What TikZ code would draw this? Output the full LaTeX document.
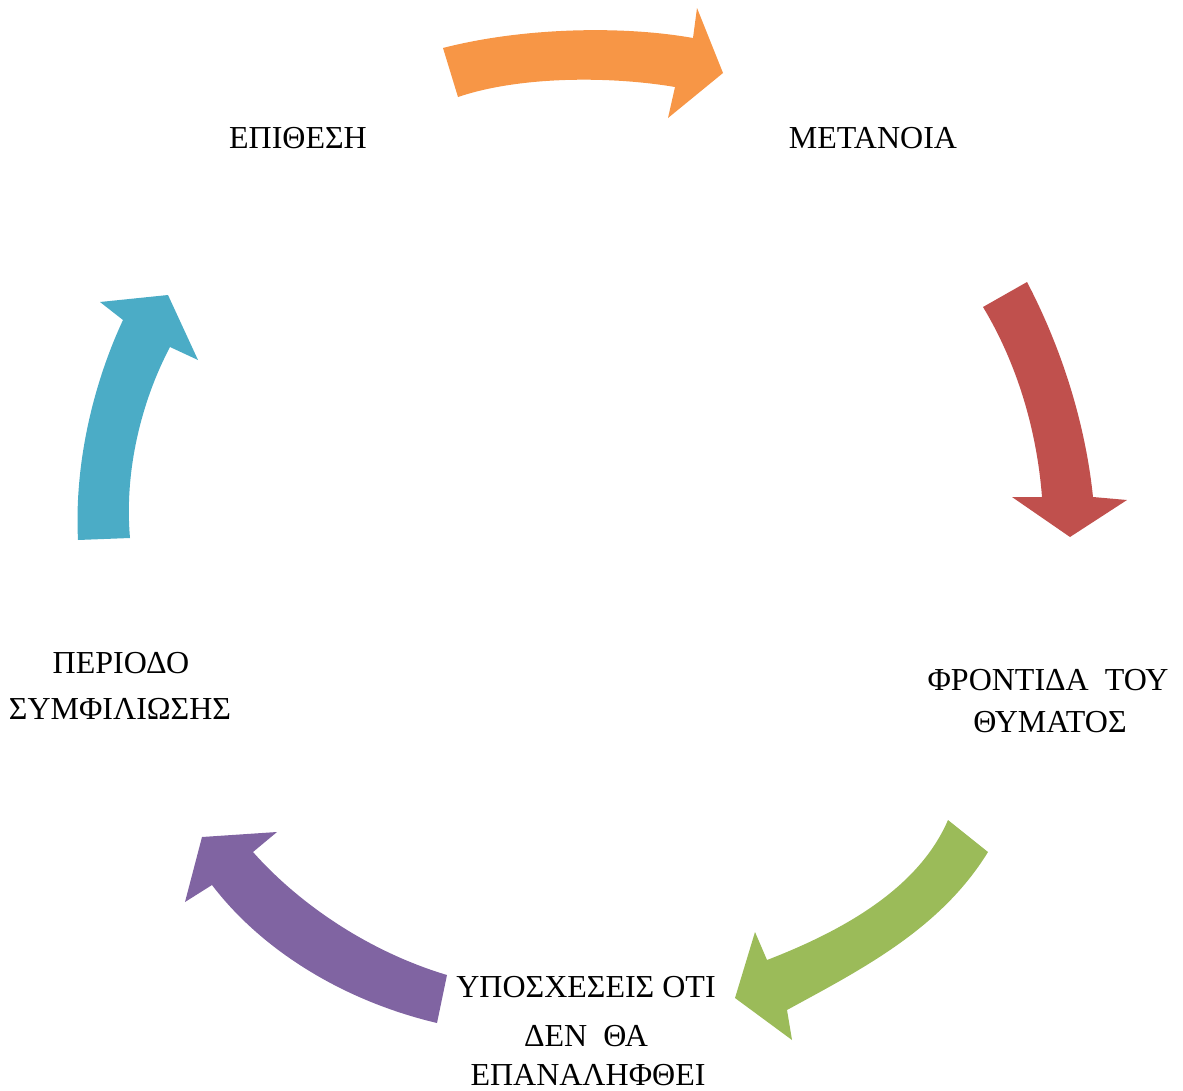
\documentclass[tikz,border=0pt]{standalone}
\usepackage{fontspec}
\setmainfont{Liberation Serif}
\definecolor{aorange}{HTML}{F79646}
\definecolor{ared}{HTML}{C0504D}
\definecolor{agreen}{HTML}{9BBB59}
\definecolor{apurple}{HTML}{8064A2}
\definecolor{ablue}{HTML}{4BACC6}
\begin{document}
\begin{tikzpicture}[x=1pt,y=-1pt,
  lbl/.style={anchor=base,inner sep=0pt,font=\fontsize{32}{38}\selectfont,text=black}]
\useasboundingbox (0,0) rectangle (1183,1090);
% orange arrow (top)
\fill[aorange] (443,48) .. controls (520,28) and (620,25) .. (693,38)
  -- (697,8) -- (723,73) -- (668,118) -- (675,87)
  .. controls (610,76) and (520,76) .. (458,97) -- cycle;
% red arrow (right)
\fill[ared] (983,307) -- (1027,282)
  .. controls (1060,345) and (1085,420) .. (1093,497)
  -- (1127,500) -- (1070,537) -- (1012,497) -- (1042,497)
  .. controls (1036,420) and (1012,355) .. (983,307) -- cycle;
% green arrow (bottom right)
\fill[agreen] (948,820) -- (988,852)
  .. controls (940,930) and (860,970) .. (787,1010)
  -- (792,1040) -- (735,998) -- (755,932) -- (767,960)
  .. controls (850,928) and (920,885) .. (948,820) -- cycle;
% purple arrow (bottom left)
\fill[apurple] (447,975) -- (437,1023)
  .. controls (340,1000) and (260,948) .. (212,885)
  -- (185,902) -- (202,837) -- (277,832) -- (253,852)
  .. controls (300,905) and (370,952) .. (447,975) -- cycle;
% blue arrow (left)
\fill[ablue] (130,538) -- (78,540)
  .. controls (74,460) and (95,380) .. (123,320)
  -- (100,302) -- (168,295) -- (198,360) -- (170,347)
  .. controls (142,400) and (124,470) .. (130,538) -- cycle;
% labels
\node[lbl] (t1) at (298,148) {ΕΠΙΘΕΣΗ};
\node[lbl] (t2) at (873,148) {ΜΕΤΑΝΟΙΑ};
\node[lbl] (t3a) at (1048,690) {ΦΡΟΝΤΙΔΑ\ \ ΤΟΥ};
\node[lbl] (t3b) at (1050,732) {ΘΥΜΑΤΟΣ};
\node[lbl] (t4a) at (586,997) {ΥΠΟΣΧΕΣΕΙΣ ΟΤΙ};
\node[lbl] (t4b) at (586,1046) {ΔΕΝ\ \ ΘΑ};
\node[lbl] (t4c) at (588,1085) {ΕΠΑΝΑΛΗΦΘΕΙ};
\node[lbl] (t5a) at (121,673) {ΠΕΡΙΟΔΟ};
\node[lbl] (t5b) at (120,719) {ΣΥΜΦΙΛΙΩΣΗΣ};
\end{tikzpicture}
\end{document}
